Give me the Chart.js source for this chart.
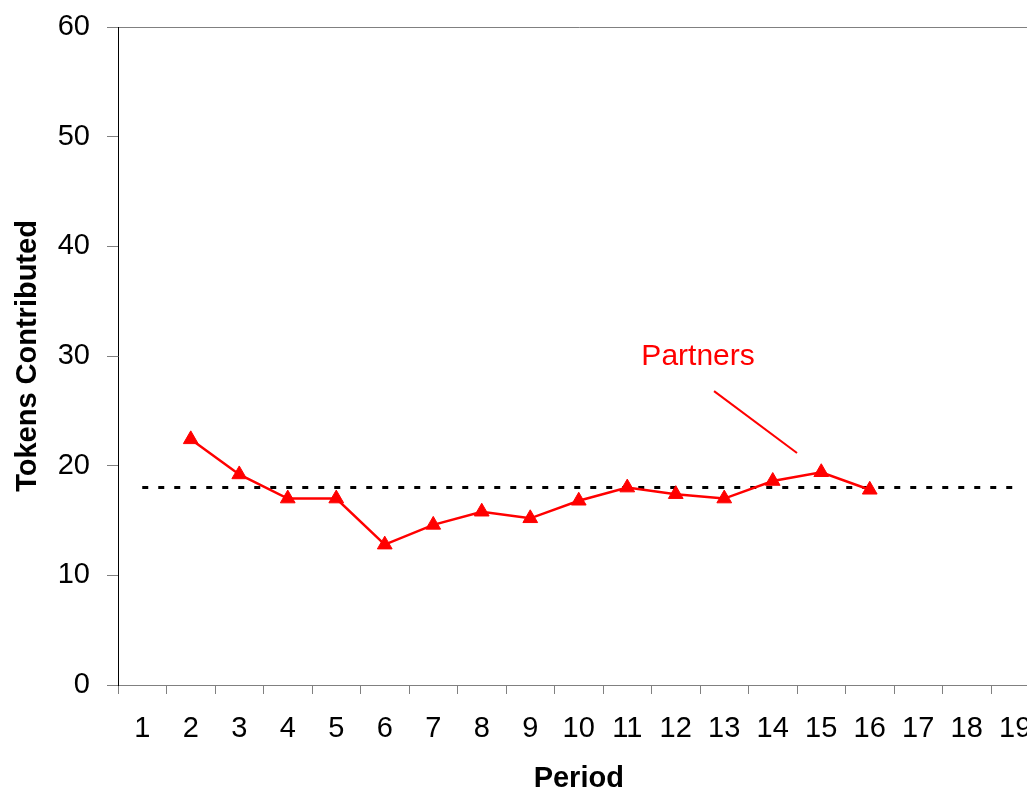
<!DOCTYPE html>
<html>
<head>
<meta charset="utf-8">
<script src="https://cdn.jsdelivr.net/npm/chart.js@4/dist/chart.umd.min.js"></script>
<style>
  html, body { margin: 0; padding: 0; background: #fff; overflow: hidden; }
  #wrap { width: 1027px; height: 790px; overflow: hidden; }
</style>
</head>
<body>
<div id="wrap"><canvas id="grafico" width="1060" height="790"></canvas></div>
<script>
const periodos = ['1','2','3','4','5','6','7','8','9','10','11','12','13','14','15','16','17','18','19'];
const partners = [null, 22.4, 19.2, 17.0, 17.0, 12.8, 14.6, 15.8, 15.2, 16.8, 18.0, 17.4, 17.0, 18.6, 19.4, 17.8, null, null, null];
const referencia = [18,18,18,18,18,18,18,18,18,18,18,18,18,18,18,18,18,18,18];
const yTicks = [0, 10, 20, 30, 40, 50, 60];

// texto "Partners" con su flecha, en coordenadas de datos
const nota = { texto: 'Partners', x: 11.46, y: 29.9, desde: [11.79, 26.8], hasta: [13.5, 21.15] };

const fuente = 'Liberation Sans, Arial, sans-serif';

const notaPlugin = {
    id: 'nota',
    afterDatasetsDraw(chart) {
        const { ctx, scales: { x, y } } = chart;
        ctx.save();
        ctx.fillStyle = '#FF0000';
        ctx.strokeStyle = '#FF0000';
        ctx.font = '30px ' + fuente;
        ctx.textAlign = 'center';
        ctx.textBaseline = 'middle';
        ctx.fillText(nota.texto, x.getPixelForValue(nota.x), y.getPixelForValue(nota.y));
        ctx.lineWidth = 2;
        ctx.beginPath();
        ctx.moveTo(x.getPixelForValue(nota.desde[0]), y.getPixelForValue(nota.desde[1]));
        ctx.lineTo(x.getPixelForValue(nota.hasta[0]), y.getPixelForValue(nota.hasta[1]));
        ctx.stroke();
        ctx.restore();
    }
};

const ctx = document.getElementById('grafico').getContext('2d');
new Chart(ctx, {
    type: 'line',
    data: {
        labels: periodos,
        datasets: [
            {
                label: 'Partners',
                data: partners,
                borderColor: '#FF0000',
                backgroundColor: '#FF0000',
                borderWidth: 2.5,
                pointStyle: 'triangle',
                pointRadius: 8.5,
                pointBorderWidth: 1,
                tension: 0,
                spanGaps: false
            },
            {
                label: 'Referencia',
                data: referencia,
                borderColor: '#000000',
                borderWidth: 3,
                borderDash: [6, 10],
                pointRadius: 0,
                tension: 0
            }
        ]
    },
    options: {
        responsive: false,
        animation: false,
        layout: { padding: { top: 27, right: 20.5, left: 0, bottom: 0 } },
        plugins: {
            legend: { display: false },
            tooltip: { enabled: false }
        },
        scales: {
            x: {
                offset: true,
                grid: {
                    offset: true,
                    color: 'rgba(0,0,0,0)',
                    tickColor: '#808080',
                    tickLength: 9,
                    drawOnChartArea: false
                },
                border: { color: '#808080', width: 1 },
                ticks: { color: '#000', font: { family: fuente, size: 29 }, padding: 18, maxRotation: 0, autoSkip: false },
                title: { display: true, text: 'Period', color: '#000', font: { family: fuente, size: 29, weight: 'bold' }, padding: { top: 10, bottom: -6 } },
                afterFit: (s) => { s.height = 105; s.paddingLeft = 0; s.paddingRight = 0; }
            },
            y: {
                min: 0,
                max: 60,
                afterBuildTicks: (s) => { s.ticks = yTicks.map(v => ({ value: v })); },
                grid: {
                    color: (c) => c.tick && c.tick.value === 60 ? '#808080' : 'rgba(0,0,0,0)',
                    tickColor: '#808080',
                    tickLength: 11
                },
                border: { color: '#000000', width: 1 },
                ticks: { color: '#000', font: { family: fuente, size: 29 }, padding: 17 },
                title: { display: true, text: 'Tokens Contributed', color: '#000', font: { family: fuente, size: 29, weight: 'bold' }, padding: { top: 11, bottom: 0 } },
                afterFit: (s) => { s.width = 118; s.paddingTop = 0; s.paddingBottom = 0; }
            }
        }
    },
    plugins: [notaPlugin]
});
</script>
</body>
</html>
